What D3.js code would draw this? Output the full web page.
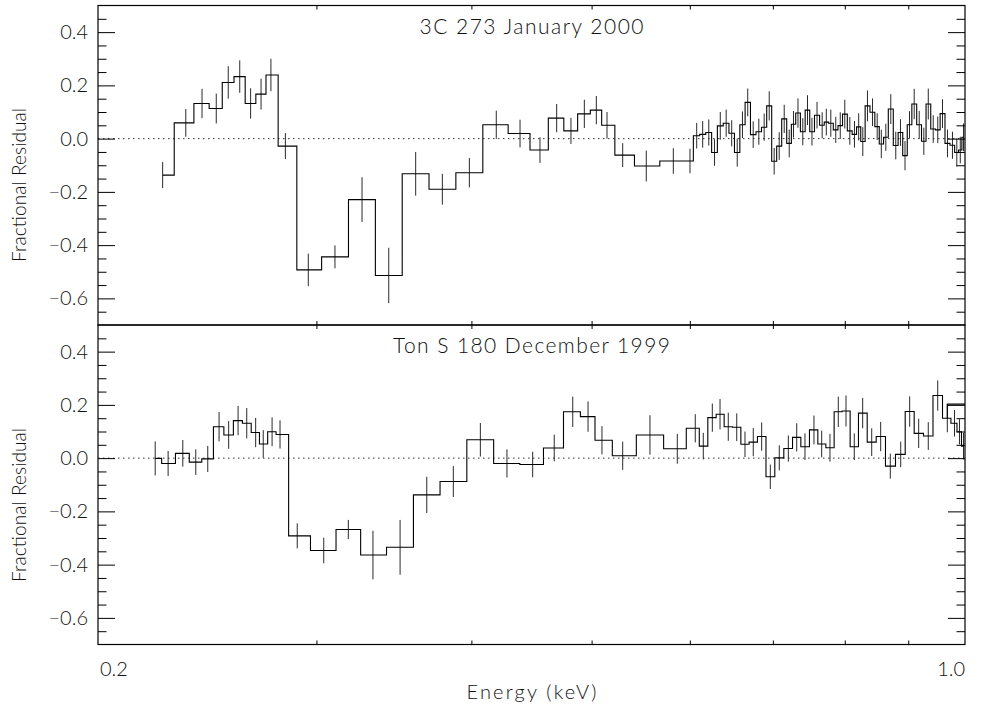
<!DOCTYPE html>
<html>
<head>
<meta charset="utf-8">
<script src="https://cdn.jsdelivr.net/npm/d3@7"></script>
<style>
  html, body { margin: 0; padding: 0; background: #fff; }
  svg { display: block; }
  text { font-family: "Lato", "Liberation Sans", Arial, sans-serif; font-weight: 300; fill: #111; }
</style>
</head>
<body>
<svg id="chart" width="982" height="711"></svg>
<script>
// ---------------- DATA ----------------
const titles = ["3C 273 January 2000", "Ton S 180 December 1999"];
const xLabel = "Energy (keV)";
const yLabel = "Fractional Residual";
const xTickLabels = [0.2, 1.0];
const xMinorTicks = [0.3, 0.4, 0.5, 0.6, 0.7, 0.8, 0.9];
const yMajorTicks = [-0.6, -0.4, -0.2, 0.0, 0.2, 0.4];
const yMinorTicks = [-0.65, -0.55, -0.5, -0.45, -0.35, -0.3, -0.25, -0.15, -0.1, -0.05,
                     0.05, 0.1, 0.15, 0.25, 0.3, 0.35, 0.45];

// 3C 273 (top panel): bin centre energy (keV), fractional residual, 1-sigma error
const topE = [0.2255,0.2354,0.2426,0.2491,0.2547,0.2602,0.2655,0.2707,0.2757,0.2832,
  0.2955,0.3105,0.3265,0.3431,0.3607,0.3790,0.3985,0.4189,0.4378,0.4543,
  0.4686,0.4812,0.4933,0.5044,0.5145,0.5297,0.5534,0.5819,0.6002,0.6077,
  0.6145,0.6215,0.6281,0.6349,0.6419,0.6485,0.6552,0.6616,0.6681,0.6749,
  0.6820,0.6888,0.6953,0.7017,0.7083,0.7149,0.7216,0.7273,0.7334,0.7400,
  0.7465,0.7527,0.7598,0.7671,0.7730,0.7795,0.7867,0.7933,0.8000,0.8075,
  0.8145,0.8209,0.8272,0.8344,0.8422,0.8496,0.8561,0.8633,0.8713,0.8794,
  0.8871,0.8946,0.9021,0.9100,0.9185,0.9264,0.9341,0.9427,0.9507,0.9591,
  0.9680,0.9770,0.9849,0.9913,0.9972];
const topV = [-0.137,0.059,0.132,0.113,0.211,0.233,0.132,0.167,0.239,-0.028,
  -0.493,-0.444,-0.229,-0.514,-0.132,-0.190,-0.128,0.052,0.019,-0.043,
  0.077,0.029,0.093,0.107,0.050,-0.062,-0.103,-0.084,-0.084,0.011,
  0.016,0.023,-0.052,0.048,0.058,0.020,-0.052,0.052,0.136,0.015,
  0.026,0.043,0.123,-0.085,-0.028,0.074,-0.018,0.054,0.096,0.026,
  0.107,0.026,0.088,0.050,0.062,0.058,0.033,0.049,0.092,0.029,
  0.016,0.044,-0.011,0.123,0.099,0.045,-0.020,0.005,0.111,-0.026,
  0.023,-0.064,0.052,0.130,0.052,-0.010,0.130,0.036,0.033,0.094,
  -0.018,-0.025,-0.052,-0.043,0.005];
const topErr = [0.049,0.052,0.055,0.056,0.061,0.061,0.057,0.058,0.061,0.049,
  0.061,0.043,0.084,0.104,0.082,0.058,0.055,0.053,0.052,0.048,
  0.053,0.049,0.053,0.053,0.050,0.045,0.058,0.048,0.046,0.048,
  0.050,0.049,0.050,0.052,0.051,0.049,0.053,0.050,0.052,0.050,
  0.049,0.051,0.055,0.050,0.052,0.053,0.052,0.050,0.055,0.051,
  0.056,0.052,0.050,0.049,0.050,0.051,0.049,0.050,0.054,0.052,
  0.050,0.051,0.054,0.058,0.052,0.050,0.053,0.051,0.056,0.052,
  0.050,0.055,0.051,0.057,0.052,0.051,0.058,0.052,0.050,0.054,
  0.052,0.051,0.053,0.050,0.052];

// Ton S 180 (bottom panel)
const botE = [0.2224,0.2278,0.2341,0.2398,0.2452,0.2504,0.2549,0.2594,0.2636,0.2680,
  0.2718,0.2763,0.2804,0.2895,0.3041,0.3183,0.3332,0.3504,0.3682,0.3868,
  0.4067,0.4273,0.4482,0.4665,0.4828,0.4967,0.5097,0.5297,0.5572,0.5862,
  0.6061,0.6152,0.6256,0.6346,0.6444,0.6546,0.6647,0.6750,0.6856,0.6967,
  0.7084,0.7204,0.7317,0.7430,0.7555,0.7664,0.7783,0.7904,0.8018,0.8142,
  0.8270,0.8410,0.8551,0.8705,0.8875,0.9024,0.9176,0.9341,0.9506,0.9677,
  0.9807,0.9898,0.9972];
const botV = [-0.001,-0.020,0.018,-0.015,-0.003,0.118,0.087,0.141,0.131,0.096,
  0.053,0.099,0.089,-0.292,-0.347,-0.268,-0.364,-0.335,-0.138,-0.088,
  0.069,-0.020,-0.024,0.038,0.174,0.156,0.067,0.009,0.087,0.035,
  0.112,0.045,0.152,0.165,0.118,0.116,0.052,0.060,0.081,-0.070,
  0.001,0.036,0.078,0.043,0.106,0.053,0.039,0.174,0.177,0.043,
  0.169,0.060,0.081,-0.030,0.014,0.175,0.093,0.083,0.235,0.150,
  0.131,0.099,0.045];
const botErr = [0.064,0.047,0.050,0.048,0.049,0.055,0.052,0.055,0.057,0.055,
  0.052,0.054,0.053,0.047,0.048,0.036,0.091,0.103,0.068,0.058,
  0.063,0.053,0.048,0.050,0.057,0.057,0.053,0.053,0.074,0.056,
  0.053,0.050,0.053,0.057,0.053,0.052,0.048,0.053,0.053,0.046,
  0.047,0.049,0.053,0.050,0.054,0.050,0.052,0.057,0.058,0.050,
  0.057,0.052,0.055,0.047,0.048,0.057,0.055,0.052,0.057,0.053,
  0.050,0.047,0.050];
// short overlapping trace at the high-energy end of the bottom panel
const botTailE = [0.9677, 0.9677, 1.0];
const botTailV = [0.150, 0.203, 0.203];

// ---------------- LAYOUT ----------------
const svg = d3.select("#chart");
const L = 98, R = 965;
const x = d3.scaleLog().domain([0.2, 1.0]).range([L, R]);
const yDomain = [-0.7, 0.5];
const FONT = "Lato, Liberation Sans, Arial, sans-serif";

const panels = [
  { title: titles[0], E: topE, V: topV, Err: topErr, top: 5.5, bottom: 325,
    titleY: 33.5, titleLen: 224, ylabY: 185 },
  { title: titles[1], E: botE, V: botV, Err: botErr, top: 325, bottom: 644.5,
    titleY: 352.5, titleLen: 277, ylabY: 505, tailE: botTailE, tailV: botTailV }
];

const fmt = d => d3.format(".1f")(d);

panels.forEach((p, i) => {
  const y = d3.scaleLinear().domain(yDomain).range([p.bottom, p.top]);
  const g = svg.append("g");

  const clipId = "clip" + i;
  svg.append("clipPath").attr("id", clipId)
    .append("rect").attr("x", L).attr("y", p.top).attr("width", R - L).attr("height", p.bottom - p.top);

  // zero reference line (dotted)
  g.append("line")
    .attr("x1", x(0.2)).attr("x2", x(1.0))
    .attr("y1", y(0)).attr("y2", y(0))
    .attr("stroke", "#333").attr("stroke-width", 1)
    .attr("stroke-dasharray", "1.5,3.5");

  const data = p.E.map((e, k) => ({ e: e, v: p.V[k], err: p.Err[k] }));
  const plot = g.append("g").attr("clip-path", `url(#${clipId})`);

  // error bars
  plot.selectAll("line.eb").data(data).enter().append("line")
    .attr("class", "eb")
    .attr("x1", d => x(d.e)).attr("x2", d => x(d.e))
    .attr("y1", d => y(d.v - d.err)).attr("y2", d => y(d.v + d.err))
    .attr("stroke", "#2a2a2a").attr("stroke-width", 1);

  // histogram (psym=10 style)
  const line = d3.line().x(d => x(d.e)).y(d => y(d.v)).curve(d3.curveStep);
  plot.append("path").datum(data)
    .attr("d", line)
    .attr("fill", "none").attr("stroke", "#000").attr("stroke-width", 1.1);

  if (p.tailE) {
    const tail = p.tailE.map((e, k) => ({ e: e, v: p.tailV[k] }));
    plot.append("path").datum(tail)
      .attr("d", d3.line().x(d => x(d.e)).y(d => y(d.v)))
      .attr("fill", "none").attr("stroke", "#000").attr("stroke-width", 1.1);
  }

  // Y axes (inward ticks, both sides)
  const styleAxis = sel => {
    sel.select(".domain").remove();
    sel.selectAll(".tick line").attr("stroke", "#000").attr("stroke-width", 1);
  };
  g.append("g").attr("transform", `translate(${L},0)`)
    .call(d3.axisLeft(y).tickValues(yMajorTicks).tickSizeInner(-17).tickSizeOuter(0)
      .tickPadding(10).tickFormat(fmt))
    .call(styleAxis)
    .call(s => s.selectAll("text")
      .attr("font-size", 20)
      .attr("font-family", FONT)
      .attr("font-weight", 300)
      .attr("fill", "#111"));
  g.append("g").attr("transform", `translate(${L},0)`)
    .call(d3.axisLeft(y).tickValues(yMinorTicks).tickSizeInner(-8.5).tickSizeOuter(0).tickFormat(""))
    .call(styleAxis);
  g.append("g").attr("transform", `translate(${R},0)`)
    .call(d3.axisRight(y).tickValues(yMajorTicks).tickSizeInner(-17).tickSizeOuter(0).tickFormat(""))
    .call(styleAxis);
  g.append("g").attr("transform", `translate(${R},0)`)
    .call(d3.axisRight(y).tickValues(yMinorTicks).tickSizeInner(-8.5).tickSizeOuter(0).tickFormat(""))
    .call(styleAxis);

  // X axes (inward minor ticks, top and bottom)
  g.append("g").attr("transform", `translate(0,${p.bottom})`)
    .call(d3.axisBottom(x).tickValues(xMinorTicks).tickSizeInner(-4).tickSizeOuter(0).tickFormat(""))
    .call(styleAxis);
  g.append("g").attr("transform", `translate(0,${p.top})`)
    .call(d3.axisTop(x).tickValues(xMinorTicks).tickSizeInner(-4).tickSizeOuter(0).tickFormat(""))
    .call(styleAxis);

  // frame
  g.append("rect")
    .attr("x", L).attr("y", p.top).attr("width", R - L).attr("height", p.bottom - p.top)
    .attr("fill", "none").attr("stroke", "#000").attr("stroke-width", 1.2);

  // panel title
  g.append("text")
    .attr("x", (L + R) / 2).attr("y", p.titleY)
    .attr("text-anchor", "middle")
    .attr("font-size", 21)
    .attr("textLength", p.titleLen).attr("lengthAdjust", "spacing")
    .text(p.title);

  // y label
  g.append("text")
    .attr("transform", `translate(26,${p.ylabY}) rotate(-90)`)
    .attr("text-anchor", "middle")
    .attr("font-size", 19)
    .attr("textLength", 154).attr("lengthAdjust", "spacing")
    .text(yLabel);
});

// x tick labels (bottom panel only)
const xl = svg.append("g");
xl.append("text").attr("x", x(xTickLabels[0]) + 2).attr("y", 676)
  .attr("text-anchor", "start").attr("font-size", 20).text(xTickLabels[0].toFixed(1));
xl.append("text").attr("x", x(xTickLabels[1])).attr("y", 676)
  .attr("text-anchor", "end").attr("font-size", 20).text(xTickLabels[1].toFixed(1));

// x label
svg.append("text").attr("x", (L + R) / 2).attr("y", 699)
  .attr("text-anchor", "middle").attr("font-size", 20)
  .attr("textLength", 130).attr("lengthAdjust", "spacing")
  .text(xLabel);
</script>
</body>
</html>
